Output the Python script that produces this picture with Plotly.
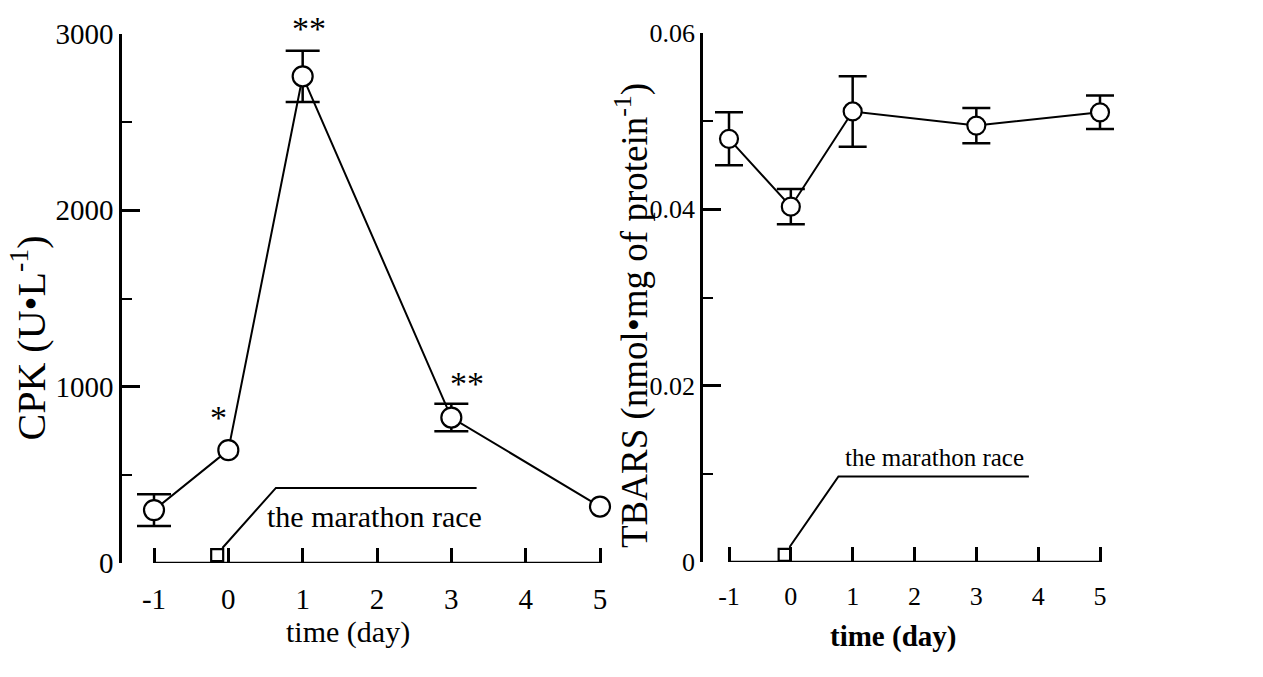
import plotly.graph_objects as go

# ---- data ----
days = [-1, 0, 1, 3, 5]
cpk_mean = [300, 640, 2760, 825, 320]
cpk_err = [90, 0, 145, 78, 0]
cpk_sig = ["", "*", "**", "**", ""]

tbars_mean = [0.0480, 0.0403, 0.0511, 0.0495, 0.0510]
tbars_err = [0.0030, 0.0020, 0.0040, 0.0020, 0.0019]

x_ticks = [-1, 0, 1, 2, 3, 4, 5]
cpk_ticks = [0, 1000, 2000, 3000]
cpk_minor = [500, 1500, 2500]
tbars_ticks = [0, 0.02, 0.04, 0.06]
tbars_ticktext = ["0", "0.02", "0.04", "0.06"]
tbars_minor = [0.01, 0.03, 0.05]

race_day = [-0.15]
race_cpk = [45]
race_line_x_l = [-0.08, 0.64, 3.34]
race_line_y_l = [85, 426, 426]
race_label = "the marathon race"

race_day_r = [-0.10]
race_tbars = [0.0008]
race_line_x_r = [-0.02, 0.77, 3.85]
race_line_y_r = [0.0017, 0.0097, 0.0097]

W, H = 1263, 677
FONT = "Liberation Serif"
BLACK = "black"

fig = go.Figure()

def add_panel(xa, ya, means, errs, msize, capw):
    xe = [d for d, e in zip(days, errs) if e > 0]
    ye = [m for m, e in zip(means, errs) if e > 0]
    ee = [e for e in errs if e > 0]
    fig.add_trace(go.Scatter(
        x=xe, y=ye, mode="markers", xaxis=xa, yaxis=ya,
        marker=dict(size=1, color="rgba(0,0,0,0)"),
        error_y=dict(type="data", array=ee, visible=True, color=BLACK,
                     thickness=2.5, width=capw),
        showlegend=False, hoverinfo="skip"))
    fig.add_trace(go.Scatter(
        x=days, y=means, mode="lines+markers", xaxis=xa, yaxis=ya,
        line=dict(color=BLACK, width=2),
        marker=dict(symbol="circle", size=msize, color="white",
                    line=dict(color=BLACK, width=2.2)),
        showlegend=False))

add_panel("x", "y", cpk_mean, cpk_err, 20, 17)
add_panel("x2", "y2", tbars_mean, tbars_err, 18, 14)

# marathon race markers + bracket lines
fig.add_trace(go.Scatter(x=race_line_x_l, y=race_line_y_l, mode="lines",
                         xaxis="x", yaxis="y", line=dict(color=BLACK, width=2),
                         showlegend=False, hoverinfo="skip"))
fig.add_trace(go.Scatter(x=race_day, y=race_cpk, mode="markers",
                         xaxis="x", yaxis="y",
                         marker=dict(symbol="square", size=12, color="white",
                                     line=dict(color=BLACK, width=2.2)),
                         showlegend=False))
fig.add_trace(go.Scatter(x=race_line_x_r, y=race_line_y_r, mode="lines",
                         xaxis="x2", yaxis="y2", line=dict(color=BLACK, width=2),
                         showlegend=False, hoverinfo="skip"))
fig.add_trace(go.Scatter(x=race_day_r, y=race_tbars, mode="markers",
                         xaxis="x2", yaxis="y2",
                         marker=dict(symbol="square", size=12, color="white",
                                     line=dict(color=BLACK, width=2.2)),
                         showlegend=False))

# x axis baselines (axis line spans -1..5 only)
for xr, yr in (("x", "y"), ("x2", "y2")):
    fig.add_shape(type="line", xref=xr, yref=yr, x0=x_ticks[0], x1=x_ticks[-1],
                  y0=0, y1=0, line=dict(color=BLACK, width=2.5))

# significance stars
star_shift = {0: (-10, 33), 1: (6, 22), 3: (16, 20)}
for d, m, e, s in zip(days, cpk_mean, cpk_err, cpk_sig):
    if s:
        dx, dy = star_shift[d]
        fig.add_annotation(x=d, y=m + e, xref="x", yref="y", text=s,
                           showarrow=False, xshift=dx, yshift=dy,
                           xanchor="center", yanchor="middle",
                           font=dict(family=FONT, size=34, color=BLACK))

# race labels
fig.add_annotation(x=0.49, y=261, xref="x", yref="y", text=race_label,
                   showarrow=False, xanchor="left", yanchor="middle",
                   font=dict(family=FONT, size=30, color=BLACK))
fig.add_annotation(x=0.85, y=0.0119, xref="x2", yref="y2", text=race_label,
                   showarrow=False, xanchor="left", yanchor="middle",
                   font=dict(family=FONT, size=25, color=BLACK))

# axis titles
fig.add_annotation(x=1 / W, y=1 - 338 / H, xref="paper", yref="paper",
                   xanchor="left", yanchor="middle",
                   text="CPK (U•L<sup>-1</sup>)", textangle=-90, showarrow=False,
                   font=dict(family=FONT, size=40, color=BLACK))
fig.add_annotation(x=606 / W, y=1 - 316 / H, xref="paper", yref="paper",
                   xanchor="left", yanchor="middle",
                   text="TBARS (nmol•mg of protein<sup>-1</sup>)", textangle=-90,
                   showarrow=False, font=dict(family=FONT, size=37, color=BLACK))
fig.add_annotation(x=348 / W, y=1 - 632 / H, xref="paper", yref="paper",
                   xanchor="center", yanchor="middle",
                   text="time (day)", showarrow=False,
                   font=dict(family=FONT, size=30, color=BLACK))
fig.add_annotation(x=893 / W, y=1 - 636 / H, xref="paper", yref="paper",
                   xanchor="center", yanchor="middle",
                   text="<b>time (day)</b>", showarrow=False,
                   font=dict(family=FONT, size=29, color=BLACK))

def xaxis_cfg(px0, px_m1, px_5, px1, fsize):
    per = (px_5 - px_m1) / 6.0
    r0 = -1 - (px_m1 - px0) / per
    r1 = 5 + (px1 - px_5) / per
    return dict(domain=[px0 / W, px1 / W], range=[r0, r1],
                showline=False, showgrid=False, zeroline=False,
                ticks="inside", ticklen=15, tickwidth=2.5, tickcolor=BLACK,
                tickvals=x_ticks, ticktext=[str(t) for t in x_ticks],
                tickfont=dict(family=FONT, size=fsize, color=BLACK),
                ticklabelstandoff=16, automargin=False, fixedrange=True)

def yaxis_cfg(py_top, py_bot, rng, tv, tt, minor, xa, fsize):
    return dict(domain=[1 - py_bot / H, 1 - py_top / H], range=rng, anchor=xa,
                showline=True, linecolor=BLACK, linewidth=2.5,
                showgrid=False, zeroline=False,
                ticks="inside", ticklen=18, tickwidth=2.5, tickcolor=BLACK,
                tickvals=tv, ticktext=tt,
                minor=dict(ticks="inside", ticklen=10, tickwidth=2,
                           tickcolor=BLACK, tickvals=minor, showgrid=False),
                tickfont=dict(family=FONT, size=fsize, color=BLACK),
                automargin=False, fixedrange=True)

fig.update_layout(
    width=W, height=H,
    margin=dict(l=0, r=0, t=0, b=0, pad=0, autoexpand=False),
    paper_bgcolor="white", plot_bgcolor="white",
    showlegend=False,
    xaxis=dict(anchor="y", **xaxis_cfg(122, 154, 600, 620, 29)),
    yaxis=yaxis_cfg(34, 563, [0, 3000], cpk_ticks, [str(t) for t in cpk_ticks],
                    cpk_minor, "x", 29),
    xaxis2=dict(anchor="y2", **xaxis_cfg(703, 729, 1100, 1120, 26)),
    yaxis2=yaxis_cfg(33, 562, [0, 0.06], tbars_ticks, tbars_ticktext,
                     tbars_minor, "x2", 26),
)

fig.write_html("out.html")
